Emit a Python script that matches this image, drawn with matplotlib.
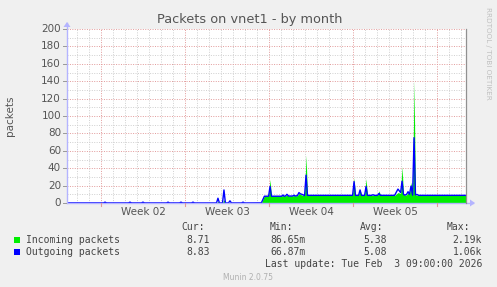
import matplotlib
matplotlib.use('Agg')
import matplotlib.pyplot as plt
from matplotlib.patches import Rectangle, Polygon
from matplotlib.lines import Line2D

# ---------------- data (time in days from left edge of the graph) ----------------
days = [0.00, 3.05, 3.17, 3.29, 5.13, 5.25, 5.37, 6.21, 6.33, 6.45,
        8.30, 8.42, 8.54, 9.38, 9.50, 9.62, 10.38, 10.50, 10.62,
        12.46, 12.58, 12.70, 12.96, 13.08, 13.20, 13.46, 13.58, 13.70,
        14.55, 14.67, 14.79, 16.20, 16.45, 16.80, 16.92, 17.04,
        17.90, 18.00, 18.10, 18.20, 18.33, 18.46, 18.80, 18.92, 19.04,
        19.20, 19.33, 19.45, 19.58, 19.80, 19.92, 20.04,
        23.80, 23.92, 24.04, 24.30, 24.42, 24.54, 24.80, 24.92, 25.04,
        25.38, 25.50, 25.62, 25.88, 26.00, 26.12,
        27.30, 27.58, 27.80, 27.92, 28.04, 28.17, 28.30, 28.42, 28.54,
        28.67, 28.80, 28.92, 29.04, 29.17, 29.30, 33.33]
incoming = [0.1, 0.1, 0.5, 0.1, 0.1, 0.5, 0.1, 0.1, 0.5, 0.1,
            0.1, 0.5, 0.1, 0.1, 0.5, 0.1, 0.1, 0.5, 0.1,
            0.1, 2.0, 0.1, 0.1, 4.0, 0.1, 0.1, 1.0, 0.1,
            0.1, 0.5, 0.1, 0.2, 8.2, 8.2, 27.0, 8.2,
            8.2, 8.5, 8.2, 8.2, 9.0, 8.2, 8.2, 8.6, 8.2,
            8.5, 11.0, 10.0, 9.0, 8.5, 55.0, 8.7,
            8.7, 29.0, 8.7, 8.7, 16.0, 8.7, 8.7, 28.0, 8.7,
            8.7, 9.0, 8.7, 8.7, 14.0, 8.7,
            8.7, 12.0, 11.0, 42.0, 10.0, 9.0, 9.5, 12.0, 10.0,
            24.0, 9.0, 141.0, 9.5, 9.0, 8.7, 8.7]
outgoing = [0.1, 0.1, 1.0, 0.1, 0.1, 1.0, 0.1, 0.1, 1.0, 0.1,
            0.1, 1.0, 0.1, 0.1, 1.0, 0.1, 0.1, 1.0, 0.1,
            0.1, 5.5, 0.1, 0.1, 15.0, 0.1, 0.1, 2.5, 0.1,
            0.1, 1.0, 0.1, 0.2, 7.8, 7.8, 19.0, 7.8,
            7.8, 9.2, 7.8, 8.0, 10.0, 8.0, 8.0, 9.0, 8.0,
            8.5, 12.0, 10.5, 10.0, 8.5, 32.0, 8.8,
            8.8, 24.5, 8.8, 8.8, 15.0, 8.8, 8.8, 19.0, 8.8,
            8.8, 9.5, 8.8, 8.8, 11.0, 8.8,
            8.8, 16.0, 12.0, 25.0, 10.0, 9.0, 10.0, 13.0, 10.0,
            19.5, 9.0, 75.0, 9.5, 9.8, 8.8, 8.8]

week_labels = ["Week 02", "Week 03", "Week 04", "Week 05"]
week_label_pos = [6.33, 13.33, 20.33, 27.33]
week_lines = [2.83, 9.83, 16.83, 23.83, 30.83]
y_ticks = [0, 20, 40, 60, 80, 100, 120, 140, 160, 180, 200]

series_names = ["Incoming packets", "Outgoing packets"]
series_colors = ["#00ee00", "#0000ff"]
cur_vals = ["8.71", "8.83"]
min_vals = ["86.65m", "66.87m"]
avg_vals = ["5.38", "5.08"]
max_vals = ["2.19k", "1.06k"]

# ---------------- figure ----------------
W, H = 497, 287
DPI = 100
fig = plt.figure(figsize=(W / DPI, H / DPI), dpi=DPI, facecolor="#f0f0f0")

L, R, T, B = 67, 466, 29, 203
ax = fig.add_axes([L / W, 1 - B / H, (R - L) / W, (B - T) / H])
ax.set_facecolor("white")
XMAX = 33.25
ax.set_xlim(0, XMAX)
ax.set_ylim(0, 200)

def px(x, y):
    return x / W, 1 - y / H

# grid
dots = (0, (1, 1.5))
d = 0.83
while d < XMAX:
    if all(abs(d - w) > 0.01 for w in week_lines):
        ax.axvline(d, color="#cfcfcf", lw=0.7, ls=dots, zorder=1)
    d += 1.0
for w in week_lines:
    ax.axvline(w, color="#e29a9a", lw=0.7, ls=dots, zorder=1)
for yv in range(10, 200, 20):
    ax.axhline(yv, color="#cfcfcf", lw=0.7, ls=dots, zorder=1)
for yv in range(20, 201, 20):
    ax.axhline(yv, color="#e29a9a", lw=0.7, ls=dots, zorder=1)

# data
ax.fill_between(days, 0, incoming, color=series_colors[0], lw=0, zorder=2)
ax.plot(days, outgoing, color=series_colors[1], lw=1.0, zorder=3)

# frame
for s in ax.spines.values():
    s.set_visible(False)
ax.set_xticks([])
ax.set_yticks([])

# axes lines & arrows (figure pixel coords)
axcol = "#b4b4ff"
fig.add_artist(Line2D([L / W, 473 / W], [1 - B / H, 1 - B / H], color=axcol, lw=1.0))
fig.add_artist(Line2D([L / W, L / W], [1 - B / H, 1 - 23 / H], color=axcol, lw=1.0))
fig.add_artist(Polygon([px(470, 199.5), px(475, 203), px(470, 206.5)], closed=True, color=axcol, lw=0))
fig.add_artist(Polygon([px(63.5, 27), px(67, 22), px(70.5, 27)], closed=True, color=axcol, lw=0))
fig.add_artist(Line2D([R / W + 0.0005, R / W + 0.0005], [1 - B / H, 1 - T / H], color="#909090", lw=0.9))

# ticks
for yv in y_ticks:
    yy = B - (B - T) * yv / 200
    fig.add_artist(Line2D([63 / W, 66 / W], [1 - yy / H] * 2, color="#999999", lw=0.7))
    fig.text(61 / W, 1 - yy / H, str(yv), ha="right", va="center",
             fontsize=7.5, color="#555555", family="DejaVu Sans")
for w in week_lines:
    xx = L + (R - L) * w / XMAX
    fig.add_artist(Line2D([xx / W] * 2, [1 - 203 / H, 1 - 206 / H], color="#e29a9a", lw=0.8))
for lab, pos in zip(week_labels, week_label_pos):
    xx = L + (R - L) * pos / XMAX
    fig.text(xx / W, 1 - 212 / H, lab, ha="center", va="center",
             fontsize=7.5, color="#555555", family="DejaVu Sans")

# title, labels
fig.text(250 / W, 1 - 19 / H, "Packets on vnet1 - by month", ha="center", va="center",
         fontsize=9.3, color="#555555", family="DejaVu Sans")
fig.text(10 / W, 1 - 116 / H, "packets", ha="center", va="center", rotation=90,
         fontsize=7.5, color="#555555", family="DejaVu Sans")
fig.text(488 / W, 1 - 53 / H, "RRDTOOL / TOBI OETIKER", ha="center", va="center",
         rotation=270, fontsize=5.2, color="#c0c0c0", family="DejaVu Sans")

# legend
mono = "DejaVu Sans Mono"
lc = "#444444"
fs = 7.0
fig.text(181 / W, 1 - 227 / H, "Cur:", ha="left", va="center", fontsize=fs, color=lc, family=mono)
fig.text(270 / W, 1 - 227 / H, "Min:", ha="left", va="center", fontsize=fs, color=lc, family=mono)
fig.text(360 / W, 1 - 227 / H, "Avg:", ha="left", va="center", fontsize=fs, color=lc, family=mono)
fig.text(447 / W, 1 - 227 / H, "Max:", ha="left", va="center", fontsize=fs, color=lc, family=mono)
rows_y = [240, 252]
sq_top = [237, 249]
for i in range(2):
    y = rows_y[i]
    fig.add_artist(Rectangle(px(14, sq_top[i] + 6), 6 / W, 6 / H, color=series_colors[i], lw=0))
    fig.text(26 / W, 1 - y / H, series_names[i], ha="left", va="center", fontsize=fs, color=lc, family=mono)
    fig.text(210 / W, 1 - y / H, cur_vals[i], ha="right", va="center", fontsize=fs, color=lc, family=mono)
    fig.text(270 / W, 1 - y / H, min_vals[i], ha="left", va="center", fontsize=fs, color=lc, family=mono)
    fig.text(387 / W, 1 - y / H, avg_vals[i], ha="right", va="center", fontsize=fs, color=lc, family=mono)
    fig.text(482 / W, 1 - y / H, max_vals[i], ha="right", va="center", fontsize=fs, color=lc, family=mono)
fig.text(482 / W, 1 - 264 / H, "Last update: Tue Feb  3 09:00:00 2026", ha="right", va="center",
         fontsize=fs, color=lc, family=mono)
fig.text(248 / W, 1 - 277 / H, "Munin 2.0.75", ha="center", va="center",
         fontsize=5.5, color="#b0b0b0", family="DejaVu Sans")

fig.savefig("out.png", dpi=DPI, facecolor=fig.get_facecolor())
